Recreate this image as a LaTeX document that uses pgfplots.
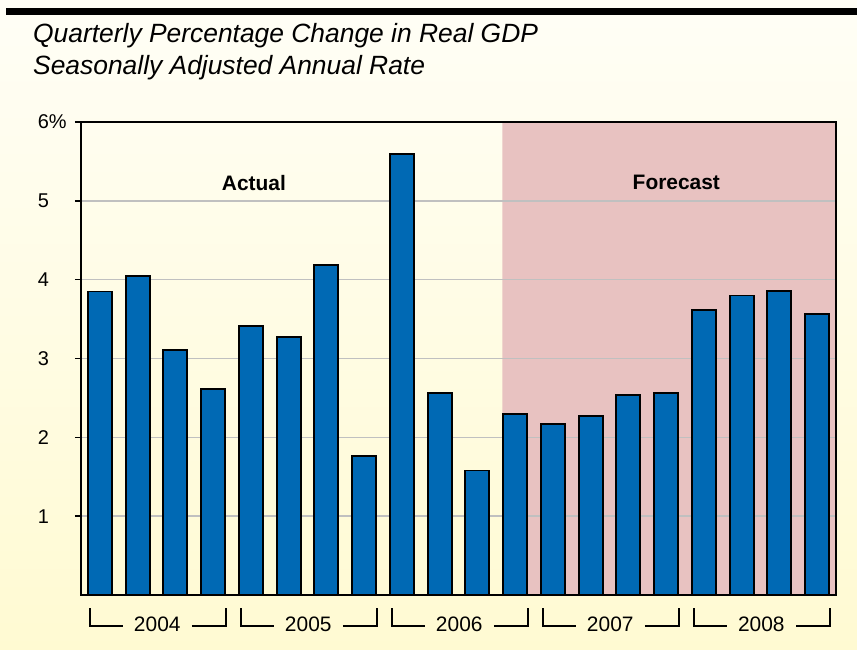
\documentclass[border=0pt]{standalone}
\usepackage{fontspec}
\setmainfont{Liberation Sans}
\usepackage{pgfplots}
\pgfplotsset{compat=1.18}
\definecolor{barblue}{HTML}{0069B4}
\definecolor{fcpink}{HTML}{E8C2C1}
\definecolor{gridgray}{HTML}{C0C0C0}
\definecolor{bgtop}{HTML}{FFFEF6}
\definecolor{bgbot}{HTML}{FFFAD2}

\begin{document}
\begin{tikzpicture}[x=1bp,y=1bp]
% page background
\shade[top color=bgtop, bottom color=bgbot] (0,0) rectangle (857,650);
\useasboundingbox (0,0) rectangle (857,650);
\fill[black] (6,635) rectangle (857,642);

\node[anchor=base west, inner sep=0pt, font=\fontsize{26.5}{30}\selectfont\itshape] at (33,607) {Quarterly Percentage Change in Real GDP};
\node[anchor=base west, inner sep=0pt, font=\fontsize{26.5}{30}\selectfont\itshape] at (33,575) {Seasonally Adjusted Annual Rate};

% forecast shading, behind the grid
\begin{axis}[
  at={(81bp,55bp)}, anchor=south west,
  scale only axis, width=755bp, height=473bp,
  xmin=-0.5, xmax=19.5, ymin=0, ymax=6,
  hide axis,
]
\addplot[fill=fcpink, draw=none] coordinates {(10.66,0) (10.66,6) (19.5,6) (19.5,0)} \closedcycle;
\end{axis}

\begin{axis}[
  at={(81bp,55bp)}, anchor=south west,
  scale only axis, width=755bp, height=473bp,
  xmin=-0.5, xmax=19.5, ymin=0, ymax=6,
  enlarge x limits=false,
  ybar, bar width=24bp,
  xtick=\empty,
  ytick={1,2,3,4,5,6},
  yticklabels={1,2,3,4,5,6\%},
  ytick pos=left, tick align=outside,
  major tick length=6bp,
  tick style={black, line width=1.5bp},
  ymajorgrids, grid style={gridgray, line width=1.5bp},
  axis line style={black, line width=2bp},
  yticklabel style={font=\fontsize{20}{24}\selectfont, text width=30bp, align=left, inner sep=0pt, xshift=-7bp},
  clip=false,
]
\addplot[fill=barblue, draw=black, line width=1.8bp] coordinates {
  (0,3.85) (1,4.05) (2,3.11) (3,2.61)
  (4,3.41) (5,3.27) (6,4.19) (7,1.76)
  (8,5.59) (9,2.56) (10,1.58) (11,2.30)
  (12,2.17) (13,2.27) (14,2.54) (15,2.56)
  (16,3.62) (17,3.80) (18,3.86) (19,3.56)
};

\node[font=\bfseries\fontsize{21}{25}\selectfont] at (axis cs:4.08,5.23) {Actual};
\node[font=\bfseries\fontsize{21}{25}\selectfont] at (axis cs:15.27,5.23) {Forecast};

% year brackets
\pgfplotsinvokeforeach{0,1,2,3,4}{
  \draw[line width=2bp] (axis cs:{4*#1-0.27},-0.165) -- (axis cs:{4*#1-0.27},-0.39) -- (axis cs:{4*#1+0.62},-0.39);
  \draw[line width=2bp] (axis cs:{4*#1+2.44},-0.39) -- (axis cs:{4*#1+3.34},-0.39) -- (axis cs:{4*#1+3.34},-0.165);
}
\node[font=\fontsize{21}{25}\selectfont] at (axis cs:1.52,-0.37) {2004};
\node[font=\fontsize{21}{25}\selectfont] at (axis cs:5.52,-0.37) {2005};
\node[font=\fontsize{21}{25}\selectfont] at (axis cs:9.52,-0.37) {2006};
\node[font=\fontsize{21}{25}\selectfont] at (axis cs:13.52,-0.37) {2007};
\node[font=\fontsize{21}{25}\selectfont] at (axis cs:17.52,-0.37) {2008};
\end{axis}
\end{tikzpicture}
\end{document}
